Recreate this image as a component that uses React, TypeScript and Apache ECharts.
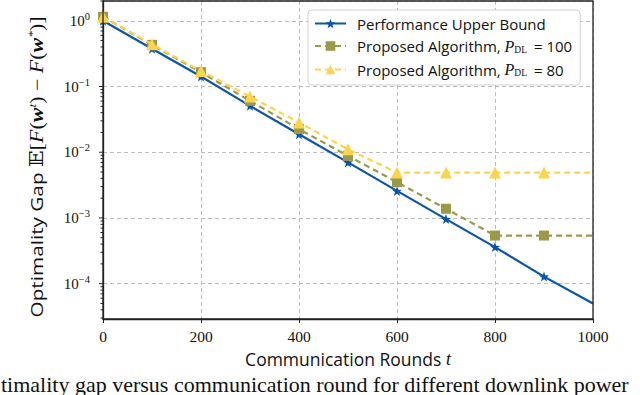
import React, { useEffect, useRef } from "react";
import * as echarts from "echarts";

const rounds = [0, 100, 200, 300, 400, 500, 600, 700, 800, 900, 1000];
const upperBound = [1.0, 0.375, 0.142, 0.0508, 0.0188, 0.007, 0.00258, 0.00096, 0.00036, 0.000128, 0.00005];
const proposed100 = [1.15, 0.43, 0.165, 0.0605, 0.0225, 0.0088, 0.0035, 0.00138, 0.00054, 0.00054, 0.00054];
const proposed80 = [1.15, 0.44, 0.172, 0.0705, 0.0283, 0.0111, 0.0049, 0.0049, 0.0049, 0.0049, 0.0049];
const xTicks = [0, 200, 400, 600, 800, 1000];
const yExponents = [-4, -3, -2, -1, 0];

const seriesNames = [
  "Performance Upper Bound",
  "Proposed Algorithm, P_DL = 100",
  "Proposed Algorithm, P_DL = 80",
];

const BLUE = "#0B55A5";
const OLIVE = "#9B9A4A";
const YELLOW = "#FDD44F";

const GRID = { left: 103, top: 1, right: 47, bottom: 76 };
const Y_MIN = 2.9e-5;
const Y_MAX = 2.0;

const SANS = "'Open Sans', 'DejaVu Sans', sans-serif";
const SERIF = "'Liberation Serif', 'DejaVu Serif', serif";

function buildData(vals: number[]) {
  return vals.map((v, i) =>
    i === vals.length - 1 ? { value: [rounds[i], v], symbol: "none" } : { value: [rounds[i], v] }
  );
}

export default function App() {
  const ref = useRef<HTMLDivElement>(null);
  useEffect(() => {
    if (!ref.current) return;
    const chart = echarts.init(ref.current, null, { renderer: "svg" });
    const option: any = {
      animation: false,
      backgroundColor: "#ffffff",
      grid: GRID,
      legend: {
        orient: "vertical",
        left: 308,
        top: 10,
        padding: [6, 8, 7, 6],
        itemGap: 7,
        itemWidth: 31,
        itemHeight: 12,
        backgroundColor: "#ffffff",
        borderColor: "#d0d0d0",
        borderWidth: 1,
        borderRadius: 4,
        data: seriesNames,
        formatter: (name: string) => {
          if (name.indexOf("P_DL") < 0) return "{g|}{a|" + name + "}";
          const parts = name.split("P_DL");
          return "{g|}{a|" + parts[0] + "}{p|P}{sub|DL}{a|" + parts[1] + "}";
        },
        textStyle: {
          color: "#111",
          rich: {
            g: { width: 6 },
            a: { fontFamily: SANS, fontSize: 15, color: "#111" },
            p: { fontFamily: SERIF, fontStyle: "italic", fontSize: 16, color: "#111" },
            sub: { fontFamily: SERIF, fontSize: 9.5, color: "#111", padding: [7, 3, 0, 0] },
          },
        },
      },
      xAxis: {
        type: "value",
        min: 0,
        max: 1000,
        interval: 200,
        name: "Communication Rounds {t|t}",
        nameLocation: "middle",
        nameGap: 31,
        nameTextStyle: {
          fontFamily: SANS,
          fontSize: 17.5,
          color: "#111",
          rich: {
            t: { fontFamily: SERIF, fontStyle: "italic", fontSize: 18, color: "#111" },
          },
        },
        axisLine: { show: true, lineStyle: { color: "#222", width: 1.3 } },
        axisTick: { show: true, inside: false, length: 4, lineStyle: { color: "#222", width: 1 } },
        axisLabel: {
          fontFamily: SERIF,
          fontSize: 15.5,
          color: "#111",
          margin: 9,
          formatter: (v: number) => (xTicks.indexOf(v) >= 0 ? String(v) : ""),
        },
        splitLine: { show: true, lineStyle: { color: "#bdbdbd", type: [4, 3], width: 1 } },
      },
      yAxis: {
        type: "log",
        logBase: 10,
        min: Y_MIN,
        max: Y_MAX,
        axisLine: { show: true, onZero: false, lineStyle: { color: "#222", width: 1.3 } },
        axisTick: { show: false },
        axisLabel: {
          margin: 13,
          formatter: (v: number) => {
            const e = Math.log10(v);
            const r = Math.round(e);
            if (Math.abs(e - r) > 1e-6 || yExponents.indexOf(r) < 0) return "";
            return "{b|10}{sup|" + (r === 0 ? "0" : "\u2212" + Math.abs(r)) + "}";
          },
          rich: {
            b: { fontFamily: SERIF, fontSize: 15, color: "#111" },
            sup: { fontFamily: SERIF, fontSize: 10.5, color: "#111", padding: [0, 0, 9, 0] },
          },
        },
        splitLine: { show: true, lineStyle: { color: "#bdbdbd", type: [4, 3], width: 1 } },
      },
      series: [
        {
          name: seriesNames[0],
          type: "line",
          data: buildData(upperBound),
          symbol: "path://M0,-10 L2.35,-3.24 L9.51,-3.09 L3.8,1.24 L5.88,8.09 L0,4 L-5.88,8.09 L-3.8,1.24 L-9.51,-3.09 L-2.35,-3.24 Z",
          symbolSize: 10,
          itemStyle: { color: BLUE },
          lineStyle: { color: BLUE, width: 2.2 },
          z: 2,
        },
        {
          name: seriesNames[1],
          type: "line",
          data: buildData(proposed100),
          symbol: "rect",
          symbolSize: 10,
          itemStyle: { color: OLIVE },
          lineStyle: { color: OLIVE, width: 2.2, type: [6, 4] },
          z: 3,
        },
        {
          name: seriesNames[2],
          type: "line",
          data: buildData(proposed80),
          symbol: "triangle",
          symbolSize: 12,
          itemStyle: { color: YELLOW },
          lineStyle: { color: YELLOW, width: 2.2, type: [6, 4] },
          z: 4,
        },
      ],
    };
    chart.setOption(option);

    const elems: any[] = [];
    const x0 = GRID.left;
    for (let k = -5; k <= 0; k++) {
      for (let m = 1; m <= 9; m++) {
        const v = m * Math.pow(10, k);
        if (v < Y_MIN || v > Y_MAX) continue;
        const py = chart.convertToPixel({ yAxisIndex: 0 }, v) as number;
        const len = m === 1 ? 4 : 2.5;
        elems.push({
          type: "line",
          shape: { x1: x0 - len, y1: py, x2: x0, y2: py },
          style: { stroke: "#222", lineWidth: 1 },
          silent: true,
        });
      }
    }
    elems.push({
      type: "rect",
      shape: { x: GRID.left, y: GRID.top, width: 640 - GRID.left - GRID.right, height: 395 - GRID.top - GRID.bottom },
      style: { fill: "none", stroke: "#222", lineWidth: 1.3 },
      silent: true,
      z: 10,
    });
    elems.push({
      type: "text",
      x: 37,
      y: 167,
      rotation: Math.PI / 2,
      scaleX: 1.22,
      scaleY: 1,
      style: {
        text: "{s|Optimality Gap }{m|\u{1D53C}[}{i|F}{m|(}{w|w}{sup|t}{m|) \u2212 }{i|F}{m|(}{w|w}{sup|*}{m|)]}",
        align: "center",
        verticalAlign: "middle",
        rich: {
          s: { fontFamily: SANS, fontSize: 17, fill: "#111" },
          m: { fontFamily: SERIF, fontSize: 18, fill: "#111" },
          i: { fontFamily: SERIF, fontStyle: "italic", fontSize: 18, fill: "#111" },
          w: { fontFamily: SERIF, fontStyle: "italic", fontWeight: "bold", fontSize: 18, fill: "#111" },
          sup: { fontFamily: SERIF, fontStyle: "italic", fontSize: 11, fill: "#111", padding: [0, 0, 10, 0] },
        },
      },
      silent: true,
    });
    elems.push({
      type: "text",
      x: 1,
      y: 384,
      style: {
        text: "timality gap versus communication round for different downlink power",
        fontFamily: SERIF,
        fontSize: 22,
        fill: "#111",
        verticalAlign: "middle",
      },
      silent: true,
    });
    chart.setOption({ graphic: elems });

    return () => chart.dispose();
  }, []);
  return <div ref={ref} style={{ width: 640, height: 395, position: "absolute", left: 0, top: 0 }} />;
}
